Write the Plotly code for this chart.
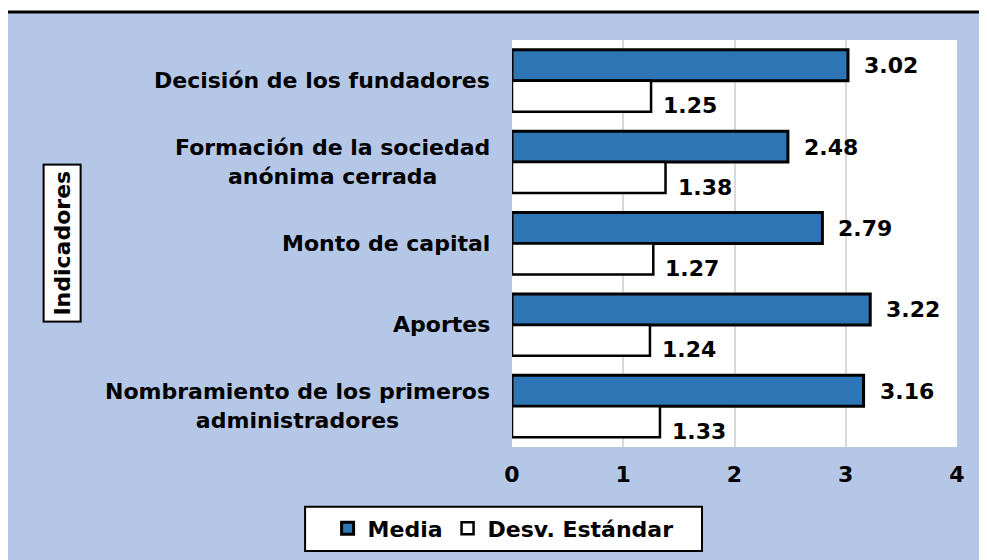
from plotly import graph_objs as go

categorias = [
    "Decisión de los fundadores",
    "Formación de la sociedad<br>anónima cerrada",
    "Monto de capital",
    "Aportes",
    "Nombramiento de los primeros<br>administradores",
]
media = [3.02, 2.48, 2.79, 3.22, 3.16]
desv = [1.25, 1.38, 1.27, 1.24, 1.33]
ticks_x = [0, 1, 2, 3, 4]

fuente = "DejaVu Sans, Arial, sans-serif"
azul_fondo = "#B4C7E7"

fig = go.Figure()
fig.add_trace(go.Bar(y=categorias, x=media, orientation="h", name="<b>Media</b>",
                     marker=dict(color="#2E75B6", line=dict(color="black", width=3))))
fig.add_trace(go.Bar(y=categorias, x=desv, orientation="h", name="<b>Desv. Estándar</b>",
                     marker=dict(color="white", line=dict(color="black", width=2.5))))

# etiquetas de valores
for c, m, d in zip(categorias, media, desv):
    fig.add_annotation(x=m, y=c, text=f"<b>{m:.2f}</b>", showarrow=False,
                       xanchor="left", yanchor="middle", xshift=14, yshift=15,
                       font=dict(size=22, color="black", family=fuente))
    fig.add_annotation(x=d, y=c, text=f"<b>{d:.2f}</b>", showarrow=False,
                       xanchor="left", yanchor="middle", xshift=10, yshift=-25,
                       font=dict(size=22, color="black", family=fuente))

# nombres de categorias centrados
for c in categorias:
    fig.add_annotation(x=0, xref="paper", y=c, text=f"<b>{c}</b>", showarrow=False,
                       xanchor="right", yanchor="middle", align="center", xshift=-20,
                       font=dict(size=22, color="black", family=fuente))

# titulo del eje en recuadro
fig.add_annotation(x=-1.011, y=0.5, xref="paper", yref="paper", text="<b>Indicadores</b>",
                   textangle=-90, showarrow=False, xanchor="center", yanchor="middle",
                   bgcolor="white", bordercolor="black", borderwidth=2, borderpad=5,
                   font=dict(size=22, color="black", family=fuente))

# marco del grafico
fig.add_shape(type="rect", xref="paper", yref="paper", x0=-2, x1=2, y0=1.069, y1=1.3,
              fillcolor="white", line=dict(width=0), layer="above")
fig.add_shape(type="rect", xref="paper", yref="paper", x0=-2, x1=-1.137, y0=-1, y1=2,
              fillcolor="white", line=dict(width=0), layer="above")
fig.add_shape(type="rect", xref="paper", yref="paper", x0=-1.137, x1=1.3, y0=-0.5, y1=1.069,
              fillcolor="rgba(0,0,0,0)", line=dict(color="black", width=3), layer="above")
# recuadro de la leyenda
fig.add_shape(type="rect", xref="paper", yref="paper", x0=-0.465, x1=0.427, y0=-0.2555, y1=-0.147,
              fillcolor="white", line=dict(color="black", width=2), layer="above")

fig.update_layout(
    width=987, height=560,
    margin=dict(l=504, r=38, t=32, b=121),
    paper_bgcolor=azul_fondo, plot_bgcolor="white",
    barmode="group", bargap=0.24, bargroupgap=0,
    font=dict(family=fuente, size=22, color="black"),
    xaxis=dict(range=[0, 4], tickvals=ticks_x, ticktext=[f"<b>{t}</b>" for t in ticks_x],
               showgrid=True, gridcolor="#D9D9D9", gridwidth=2, zeroline=False,
               ticks="", ticklabelstandoff=12, tickfont=dict(size=22, color="black")),
    yaxis=dict(autorange="reversed", showticklabels=False, showgrid=False, ticks=""),
    legend=dict(orientation="h", x=-0.02, y=-0.2, xanchor="center", yanchor="middle",
                bgcolor="rgba(0,0,0,0)", borderwidth=0, itemwidth=30,
                font=dict(size=22, color="black", family=fuente), traceorder="normal"),
    showlegend=True,
)

fig.write_html("out.html")
